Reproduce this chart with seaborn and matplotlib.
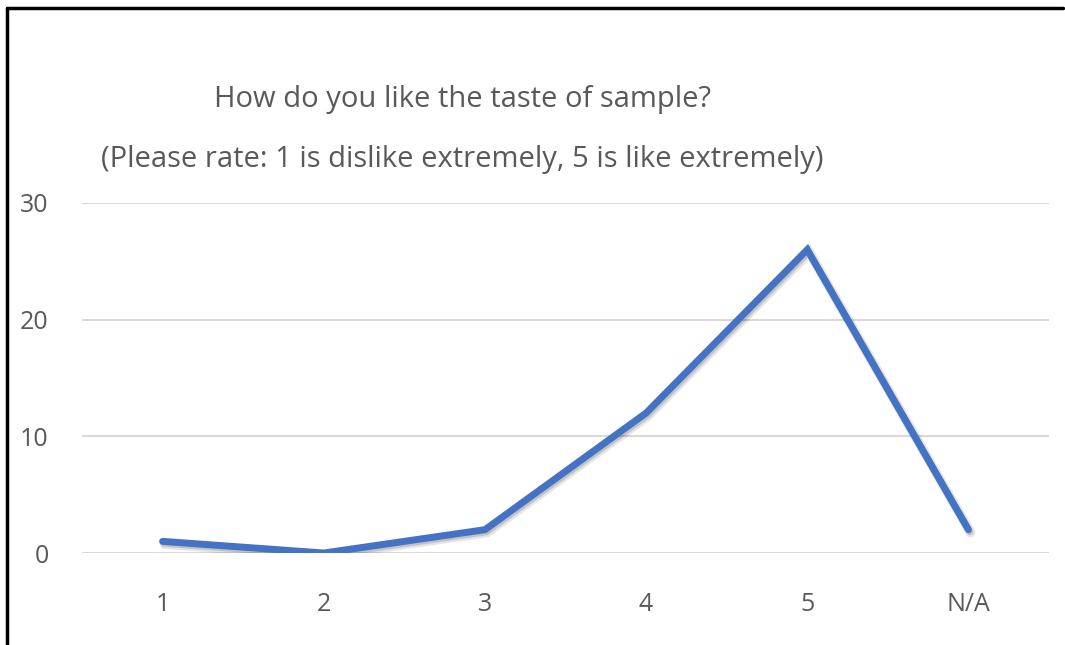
import matplotlib
matplotlib.use("Agg")
import matplotlib.pyplot as plt
import matplotlib.patheffects as pe
from matplotlib.lines import Line2D
import seaborn as sns
import pandas as pd

categories = ["1", "2", "3", "4", "5", "N/A"]
counts = [1, 0, 2, 12, 26, 2]
yticks = [0, 10, 20, 30]
title1 = "How do you like the taste of sample?"
title2 = "(Please rate: 1 is dislike extremely, 5 is like extremely)"

sns.set_theme(style="white")
plt.rcParams['font.family'] = ['Open Sans', 'DejaVu Sans']

df = pd.DataFrame({"rating": categories, "count": counts})

fig = plt.figure(figsize=(10.65, 6.45), dpi=100)
ax = fig.add_axes([0.077, 0.1426, 0.985 - 0.077, 0.6853 - 0.1426])

sns.lineplot(data=df, x="rating", y="count", sort=False, ax=ax,
             color="#4472C4", linewidth=5, solid_capstyle="round",
             solid_joinstyle="miter")
for ln in ax.lines:
    ln.set_path_effects([
        pe.SimpleLineShadow(offset=(1.5, -2.0), shadow_color="black", alpha=0.10, linewidth=7),
        pe.SimpleLineShadow(offset=(1.0, -1.5), shadow_color="black", alpha=0.15),
        pe.Normal()])

ax.set_xlim(-0.5, 5.5)
ax.set_ylim(0, 30)
ax.set_yticks(yticks)
ax.yaxis.grid(True, color="#d9d9d9", linewidth=1.5)
ax.xaxis.grid(False)
ax.set_axisbelow(True)
for s in ax.spines.values():
    s.set_visible(False)
ax.tick_params(axis="y", length=0, pad=24, labelsize=18, labelcolor="#595959")
ax.tick_params(axis="x", length=0, pad=28, labelsize=18, labelcolor="#595959")
ax.set_xlabel("")
ax.set_ylabel("")

fig.text(0.434, 0.845, title1, ha="center", va="center", fontsize=21, color="#595959")
fig.text(0.434, 0.752, title2, ha="center", va="center", fontsize=21, color="#595959")

# outer frame (left and top edges)
fig.add_artist(Line2D([0.0065, 0.0065], [0.0, 0.988], transform=fig.transFigure, color="black", linewidth=2.5))
fig.add_artist(Line2D([0.0065, 0.998], [0.988, 0.988], transform=fig.transFigure, color="black", linewidth=2.5))

fig.savefig("out.png", dpi=100, facecolor="white")
